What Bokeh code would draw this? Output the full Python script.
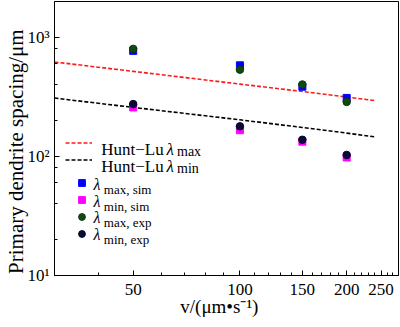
import math
from bokeh.plotting import figure
from bokeh.models import (Range1d, FixedTicker, Legend, LegendItem, Label)
from bokeh.embed import file_html
from bokeh.resources import INLINE

# ---------------- data ----------------
v = [50, 100, 150, 200]
lam_max_sim = [770, 582, 385, 310]
lam_min_sim = [258, 166, 133, 98]
lam_max_exp = [800, 535, 402, 287]
lam_min_exp = [275, 179, 138, 103]

hunt_v = [30, 50, 100, 150, 200, 240]
hunt_max = [621, 518, 405, 351, 315, 294]
hunt_min = [309, 258, 203, 175, 157, 146]

x_major = [50, 100, 150, 200, 250]
x_minor = [30, 40, 60, 70, 80, 90, 110, 120, 130, 140, 160, 170, 180, 190,
           210, 220, 230, 240, 260, 270, 280]
y_major = [10, 100, 1000]
y_minor = [20, 40, 60, 80, 200, 400, 600, 800]
y_labels = {10: "10\u00b9", 100: "10\u00b2", 1000: "10\u00b3"}

FONT = "Liberation Serif"
NB = "\u00a0"

p = figure(width=400, height=327, x_axis_type="log", y_axis_type="log",
           x_range=Range1d(30, 280), y_range=Range1d(10, 2000),
           output_backend="svg", toolbar_location=None,
           min_border_left=54, min_border_right=2, min_border_top=1,
           min_border_bottom=52)
p.background_fill_color = "white"
p.border_fill_color = "white"
p.outline_line_color = "black"
p.outline_line_width = 1
p.xgrid.visible = False
p.ygrid.visible = False

for ax in (p.xaxis[0], p.yaxis[0]):
    ax.axis_line_color = "black"
    ax.major_tick_in = 5
    ax.major_tick_out = 0
    ax.minor_tick_in = 3
    ax.minor_tick_out = 0
    ax.major_tick_line_color = "black"
    ax.minor_tick_line_color = "black"
    ax.major_label_text_font = FONT
    ax.major_label_text_font_size = "17px"
    ax.major_label_text_color = "black"
    ax.axis_label_text_font = FONT
    ax.axis_label_text_font_style = "normal"
    ax.axis_label_text_color = "black"

p.xaxis.ticker = FixedTicker(ticks=x_major, minor_ticks=x_minor)
p.yaxis.ticker = FixedTicker(ticks=y_major, minor_ticks=y_minor)
p.yaxis.major_label_overrides = y_labels
p.xaxis.major_label_overrides = {t: str(t) for t in x_major}
p.xaxis.major_label_standoff = 8
p.yaxis.major_label_standoff = 5

p.yaxis.axis_label = "Primary dendrite spacing/\u03bcm" + NB * 5
p.yaxis.axis_label_text_font_size = "21px"
p.yaxis.axis_label_standoff = -4

p.xaxis.axis_label = "v/(\u03bcm\u2022s\u207b\u00b9)" + NB * 3
p.xaxis.axis_label_text_font_size = "19px"
p.xaxis.axis_label_standoff = -2

r_hmax = p.line(hunt_v, hunt_max, line_color="#ff1a1a", line_width=1.6, line_dash="4 2")
r_hmin = p.line(hunt_v, hunt_min, line_color="black", line_width=1.6, line_dash="4 2")

r_s1 = p.scatter(v, lam_max_sim, marker="square", size=7, fill_color="#0000ff", line_color="#0000ff")
r_s2 = p.scatter(v, lam_min_sim, marker="square", size=7, fill_color="#ff00ff", line_color="#ff00ff")
r_c1 = p.scatter(v, lam_max_exp, marker="circle", size=7.5, fill_color="#114a11", line_color="#0b3a0b")
r_c2 = p.scatter(v, lam_min_exp, marker="circle", size=7.5, fill_color="#0a0a38", line_color="#05052a")

def make_legend(items, loc, gw, gh):
    lg = Legend(items=items, location=loc, orientation="vertical",
                padding=0, margin=0, spacing=0, glyph_width=gw, glyph_height=gh,
                label_height=gh, label_width=1, label_standoff=0,
                label_text_font_size="1px", background_fill_alpha=0,
                border_line_alpha=0)
    return lg

lgA = make_legend([LegendItem(label=" ", renderers=[r_hmax]),
                   LegendItem(label=" ", renderers=[r_hmin])], (11, 107), 27, 17)
lgB = make_legend([LegendItem(label=" ", renderers=[r_s1]),
                   LegendItem(label=" ", renderers=[r_s2]),
                   LegendItem(label=" ", renderers=[r_c1]),
                   LegendItem(label=" ", renderers=[r_c2])], (19, 33), 17, 17)
p.add_layout(lgA)
p.add_layout(lgB)

def lab(text, x, y, size, style="normal"):
    p.add_layout(Label(x=x, y=y, x_units="screen", y_units="screen", text=text,
                       text_font=FONT, text_font_size=size, text_font_style=style,
                       text_color="black", text_baseline="alphabetic", text_align="left"))

# legend texts (Hunt-Lu rows)
for yb, sub in ((125.7, "max"), (109.3, "min")):
    lab("Hunt\u2212Lu", 46.7, yb, "17px")
    lab("\u03bb", 112, yb, "17px", "italic")
    lab(sub, 122.5, yb - 2, "14px")

# legend texts (marker rows)
for yb, sub in ((91, "max, sim"), (74.3, "min, sim"), (57.6, "max, exp"), (40.9, "min, exp")):
    lab("\u03bb", 39.0, yb, "16px", "italic")
    lab(sub, 49.3, yb - 5, "13px")

open("out.html", "w").write(file_html(p, INLINE))
